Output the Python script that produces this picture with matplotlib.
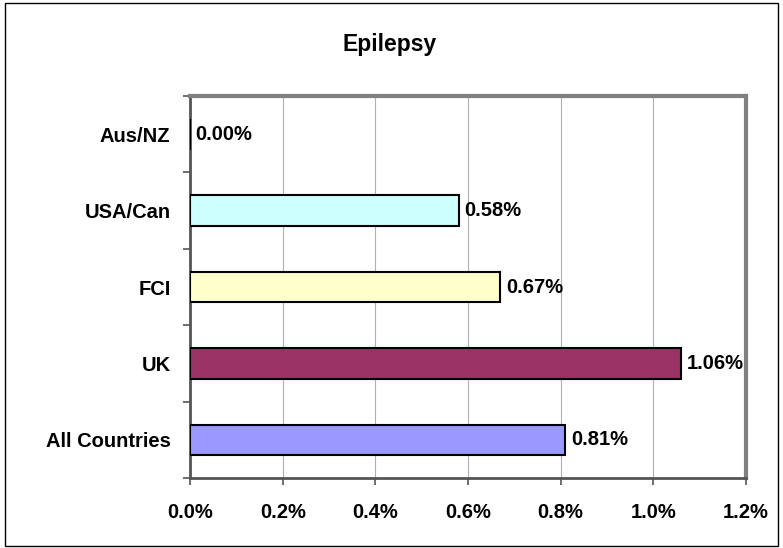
import matplotlib.pyplot as plt
import matplotlib
from matplotlib.patches import Rectangle
from matplotlib.ticker import FuncFormatter, MultipleLocator
import numpy as np

matplotlib.rcParams['font.family'] = 'Liberation Sans'
matplotlib.rcParams['font.weight'] = 'bold'

# Data (bottom to top)
groups = ['All Countries', 'UK', 'FCI', 'USA/Can', 'Aus/NZ']
values = [0.81, 1.06, 0.67, 0.58, 0.00]
colors = ['#9999FF', '#993366', '#FFFFCC', '#CCFFFF', '#FFFFFF']

fig = plt.figure(figsize=(7.83, 5.48), dpi=100)
ax = fig.add_axes([0.2427, 0.1277, 0.71, 0.697])

y = np.arange(len(groups))
ax.barh(y, values, height=0.4, color=colors, edgecolor='black', linewidth=1.5, zorder=3)

for yi, v in zip(y, values):
    ax.text(v + 0.012, yi, f'{v:.2f}%', va='center', ha='left',
            fontsize=14.5, fontweight='bold', zorder=4)

ax.set_xlim(0, 1.2)
ax.set_ylim(-0.5, len(groups) - 0.5)
ax.xaxis.set_major_locator(MultipleLocator(0.2))
ax.xaxis.set_major_formatter(FuncFormatter(lambda v, p: f'{v:.1f}%'))
ax.grid(axis='x', color='#b0b0b0', linewidth=0.8, zorder=0)

# category labels centered, ticks at category boundaries
ax.set_yticks(y)
ax.set_yticklabels(groups, fontsize=14.5, fontweight='bold')
ax.tick_params(axis='y', length=0, pad=14)
ax.set_yticks(np.arange(-0.5, len(groups), 1.0), minor=True)
ax.tick_params(axis='y', which='minor', length=5, width=1.2, color='#555555', direction='out')
ax.tick_params(axis='x', length=5, width=1.2, color='#555555', direction='out',
               labelsize=14.5, pad=13)
for lbl in ax.get_xticklabels():
    lbl.set_fontweight('bold')

for side in ['left', 'bottom']:
    ax.spines[side].set_color('#555555')
    ax.spines[side].set_linewidth(2)
for side in ['top', 'right']:
    ax.spines[side].set_color('#808080')
    ax.spines[side].set_linewidth(3)

fig.text(0.498, 0.918, 'Epilepsy', ha='center', va='center', fontsize=16.5, fontweight='bold')

fig.patches.append(Rectangle((0.006, 0.004), 0.988, 0.99, transform=fig.transFigure,
                             fill=False, edgecolor='black', linewidth=1))

fig.savefig('out.png', dpi=100, facecolor='white')
